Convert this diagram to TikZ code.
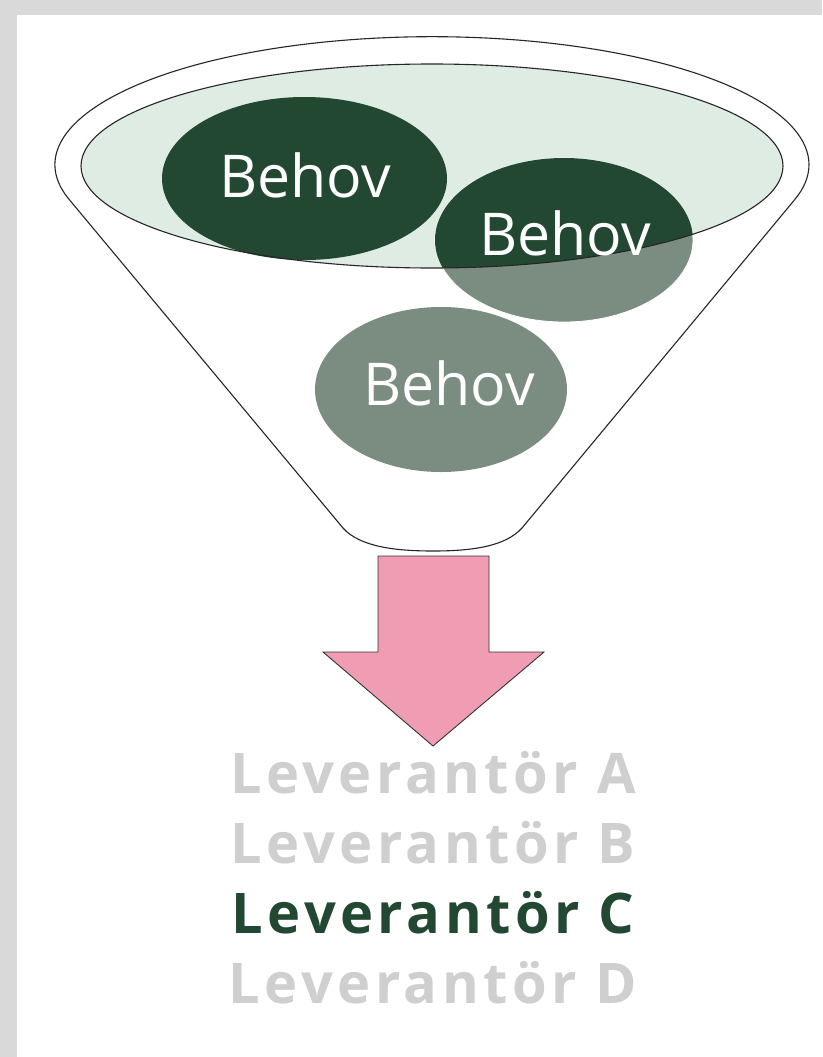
\documentclass[tikz,border=0pt]{standalone}
\usepackage{fontspec}
\setmainfont{Open Sans}
\usetikzlibrary{positioning}

\definecolor{ramgra}{HTML}{D9D9D9}
\definecolor{morkgron}{HTML}{234832}
\definecolor{gragron}{HTML}{7A8D80}
\definecolor{ljusgron}{HTML}{DEECE4}
\definecolor{rosa}{HTML}{F09DB4}
\definecolor{ljusgra}{HTML}{CFCFCF}

\tikzset{
    behovtext/.style={text=white,anchor=base,inner sep=0pt,
        font=\fontsize{59}{64}\selectfont},
    levtext/.style={anchor=base,inner sep=0pt,
        font=\fontsize{56}{62}\selectfont\bfseries\addfontfeature{LetterSpace=8}},
    tratt/.style={draw=black!85,line width=1.1pt}
}

\begin{document}
\begin{tikzpicture}[x=1pt,y=-1pt]
    \useasboundingbox (0,0) rectangle (822,1057);
    \fill[ramgra] (0,0) rectangle (822,1057);
    \fill[white] (17,15) rectangle (822,1057);

    \draw[tratt,fill=white] (69.6,200) arc[start angle=164,end angle=376,x radius=377,y radius=128]
        -- (522,528) .. controls (505,547) and (470,551) .. (433,551)
        .. controls (396,551) and (360,547) .. (343,528) -- cycle;

    \fill[ljusgron] (432,166) ellipse[x radius=351,y radius=102];
    \fill[gragron] (441,389.5) ellipse[x radius=126,y radius=82.5];
    \filldraw[gragron,draw=white,line width=0.8pt] (564,240) ellipse[x radius=129,y radius=82];
    \begin{scope}
        \clip (432,166) ellipse[x radius=351,y radius=102];
        \fill[morkgron] (564,240) ellipse[x radius=129,y radius=82];
    \end{scope}
    \fill[morkgron] (304.5,178.5) ellipse[x radius=142.5,y radius=81.5];
    \draw[tratt] (432,166) ellipse[x radius=351,y radius=102];

    \node[behovtext] (behov1) at (305,197) {Behov};
    \node[behovtext] (behov2) at (565,255) {Behov};
    \node[behovtext] (behov3) at (449,405) {Behov};

    \filldraw[fill=rosa,draw=black!80,line width=0.9pt]
        (378,556) -- (489,556) -- (489,652) -- (544,652) -- (433,746)
        -- (323,652) -- (378,652) -- cycle;

    \node[levtext,text=ljusgra] (levA) at (433,793) {Leverantör A};
    \node[levtext,text=ljusgra] (levB) at (433,863) {Leverantör B};
    \node[levtext,text=morkgron] (levC) at (433,933) {Leverantör C};
    \node[levtext,text=ljusgra] (levD) at (433,1003) {Leverantör D};
\end{tikzpicture}
\end{document}
